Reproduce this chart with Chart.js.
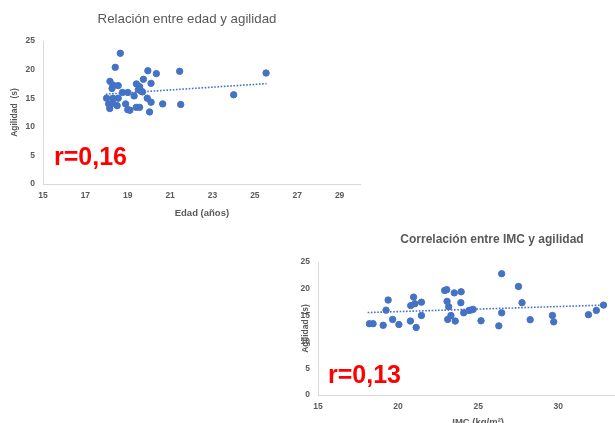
<!DOCTYPE html>
<html><head><meta charset="utf-8">
<script src="https://cdn.jsdelivr.net/npm/chart.js@4"></script>
<style>
html,body{margin:0;padding:0;background:#fff;width:615px;height:423px;overflow:hidden;position:relative;font-family:"Liberation Sans",Arial,sans-serif;}
#c1{position:absolute;left:0;top:0;width:365px;height:225px;}
#c2{position:absolute;left:290px;top:225px;width:360px;height:205px;}
.r{position:absolute;color:#ff0000;font-weight:bold;font-size:25px;line-height:1;font-family:"Liberation Sans",Arial,sans-serif;white-space:nowrap;}
#r1{left:54px;top:144px;}
#r2{left:328px;top:362px;}
</style></head><body>
<canvas id="c1" width="365" height="225"></canvas>
<canvas id="c2" width="360" height="205"></canvas>
<div class="r" id="r1">r=0,16</div>
<div class="r" id="r2">r=0,13</div>
<script>
// ---- data ----
const title1 = "Relación entre edad y agilidad";
const title2 = "Correlación entre IMC y agilidad";
const xTitle1 = "Edad (años)";
const xTitle2 = "IMC (kg/m²)";
const yTitle = "Agilidad  (s)";

const edad = [18.65,18.41,19.95,20.35,21.45,25.53,19.74,18.16,20.1,19.41,18.3,18.55,19.56,18.26,19.5,18.75,19.0,19.64,19.7,18.0,18.3,18.55,19.3,19.92,24.0,18.1,18.3,18.9,20.1,20.65,21.5,18.5,18.15,19.0,19.1,19.4,19.56,20.03];
const agilidad1 = [22.85,20.4,19.8,19.3,19.7,19.4,18.3,17.95,17.6,17.5,17.3,17.2,17.0,16.7,16.5,16.0,16.0,16.2,16.1,15.0,15.0,15.0,15.4,15.0,15.6,14.0,14.1,14.0,14.3,14.0,13.9,13.7,13.2,13.0,12.9,13.4,13.4,12.6];

const imc = [18.21,18.44,19.07,19.25,19.38,19.66,20.05,20.77,20.79,20.97,21.05,21.13,21.46,21.46,22.91,23.04,23.06,23.16,23.1,23.3,23.51,23.57,23.94,23.92,24.1,24.43,24.59,24.69,25.18,26.29,26.47,26.47,27.52,27.74,28.25,29.64,29.72,31.89,32.38,32.83];
const agilidad2 = [13.4,13.4,13.1,15.95,17.85,14.2,13.25,13.9,16.8,18.4,17.15,12.7,17.45,14.95,19.65,19.8,17.6,16.6,14.2,14.95,19.2,13.9,19.4,17.35,15.45,15.9,16.0,16.1,13.95,13.0,22.8,15.45,20.4,17.35,14.15,14.95,13.75,15.1,15.9,16.9];

const trend1X = [17.96, 25.55];
const trend1Y = [15.7, 17.55];
const trend2X = [18.1, 32.9];
const trend2Y = [15.5, 16.9];

const xTicks1 = [15,17,19,21,23,25,27,29];
const xTicks2 = [15,20,25,30,35];
const yTicks = [0,5,10,15,20,25];

// ---- helpers ----
const BLUE = '#4472C4';
const GREY = '#595959';
const zip = (xs, ys) => xs.map((x,i)=>({x, y: ys[i]}));

const titlePlugin = {
  id: 'ttl',
  afterDraw(chart, args, o) {
    const ctx = chart.ctx;
    ctx.save();
    ctx.font = o.font; ctx.fillStyle = o.color;
    ctx.textAlign = 'center'; ctx.textBaseline = 'middle';
    ctx.fillText(o.text, o.x, o.y);
    ctx.restore();
  }
};

function make(id, cfg) {
  return new Chart(document.getElementById(id), {
    type: 'scatter',
    data: { datasets: [
      { data: zip(cfg.xs, cfg.ys), backgroundColor: BLUE, borderColor: BLUE, pointRadius: 3.2, pointHoverRadius: 3.2, order: 1 },
      { type: 'line', data: zip(cfg.tx, cfg.ty), borderColor: BLUE, borderWidth: 1.6, borderDash: [1.6, 1.6], pointRadius: 0, fill: false, order: 2 }
    ]},
    options: {
      responsive: false, animation: false, events: [],
      layout: { padding: cfg.pad },
      plugins: { legend: { display: false }, tooltip: { enabled: false },
        ttl: { text: cfg.title, x: cfg.tX, y: cfg.tY, font: cfg.tFont, color: GREY } },
      scales: {
        x: { type: 'linear', min: cfg.xmin, max: cfg.xmax,
             afterBuildTicks: s => { s.ticks = cfg.xt.map(v => ({value: v})); },
             afterFit: s => { s.height = cfg.xh; },
             grid: { display: false, drawTicks: false },
             border: { display: true, color: '#d9d9d9', width: 1 },
             ticks: { color: GREY, padding: 7, font: { size: 8.5, weight: 'bold', family: 'Liberation Sans' }, maxRotation: 0 },
             title: { display: true, text: cfg.xTitle, color: GREY, padding: { top: 0, bottom: cfg.xtp }, font: { size: 9.5, weight: 'bold', family: 'Liberation Sans' } } },
        y: { type: 'linear', min: 0, max: 25,
             afterBuildTicks: s => { s.ticks = yTicks.map(v => ({value: v})); },
             afterFit: s => { s.width = cfg.yw; },
             grid: { display: false, drawTicks: false },
             border: { display: true, color: '#d9d9d9', width: 1 },
             ticks: { color: GREY, padding: 8, font: { size: 8.5, weight: 'bold', family: 'Liberation Sans' } },
             title: { display: true, text: yTitle, color: GREY, padding: { top: cfg.ytp, bottom: 0 }, font: { size: 8.5, weight: 'bold', family: 'Liberation Sans' } } }
      }
    },
    plugins: [titlePlugin]
  });
}

make('c1', { xs: edad, ys: agilidad1, tx: trend1X, ty: trend1Y, xmin: 15, xmax: 30, xt: xTicks1,
  pad: { top: 41, right: 2.5, left: 0, bottom: 0 }, xh: 41, yw: 43, xtp: 6, ytp: 10,
  title: title1, tX: 187, tY: 19, tFont: '13.3px "Liberation Sans"', xTitle: xTitle1 });

make('c2', { xs: imc, ys: agilidad2, tx: trend2X, ty: trend2Y, xmin: 15, xmax: 35, xt: xTicks2,
  pad: { top: 37, right: 6, left: 0, bottom: 0 }, xh: 35, yw: 28, xtp: 2, ytp: 11,
  title: title2, tX: 202, tY: 15, tFont: 'bold 12px "Liberation Sans"', xTitle: xTitle2 });
</script>
</body></html>
